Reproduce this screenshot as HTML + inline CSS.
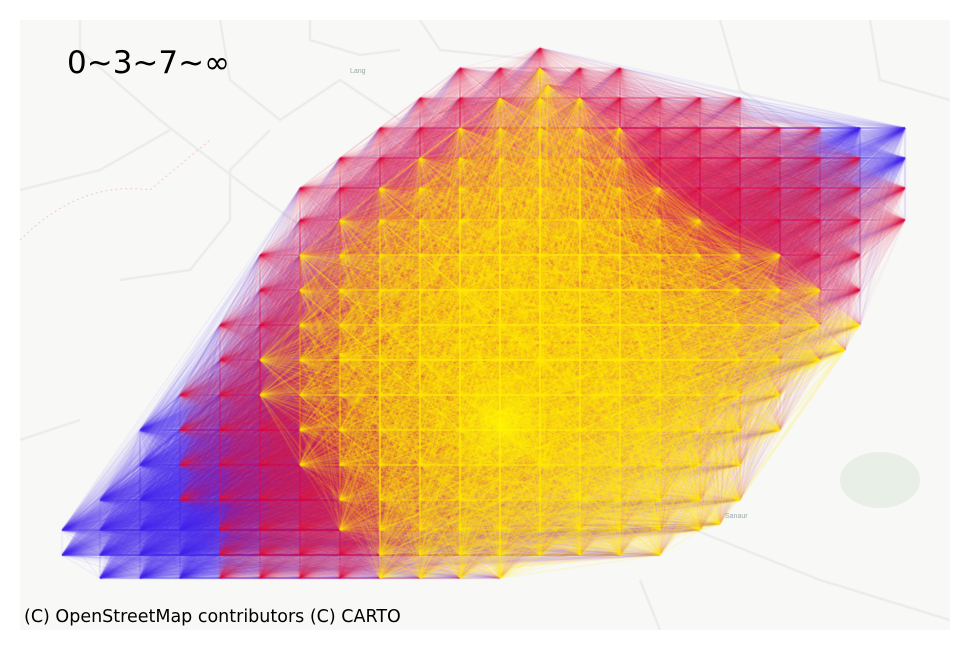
<!DOCTYPE html>
<html><head><meta charset="utf-8"><style>
html,body{margin:0;padding:0;background:#fff;width:969px;height:651px;overflow:hidden}
#wrap{position:relative;width:969px;height:651px}
#map{position:absolute;left:20px;top:20px;width:930px;height:610px;background:#f8f8f7}
canvas{position:absolute;left:0;top:0}
.t{position:absolute;font-family:"DejaVu Sans","Liberation Sans",sans-serif;color:#000}
</style></head><body>
<div id="wrap">
<div id="map">
<svg width="930" height="610" style="position:absolute;left:0;top:0">
<g stroke="#ececea" stroke-width="2.5" fill="none">
<path d="M60 0 L60 30 L140 100 L230 170 L330 240"/>
<path d="M200 0 L210 60 L260 100 L320 60 L380 100 L480 80"/>
<path d="M290 0 L290 20 L340 35 L380 30"/>
<path d="M250 110 L210 150 L210 200 L170 250 L100 260"/>
<path d="M0 170 L80 150 L150 110"/>
<path d="M400 0 L420 30 L520 40"/>
<path d="M700 0 L720 70 L780 110"/>
<path d="M0 420 L60 400"/>
<path d="M600 480 L700 520 L800 560 L930 600"/>
<path d="M620 560 L640 610"/>
<path d="M850 0 L860 60 L930 80"/>
</g>
<path d="M0 220 Q60 160 130 170 L190 120" stroke="#f3c9c9" stroke-dasharray="2 3" fill="none"/>
<ellipse cx="860" cy="460" rx="40" ry="28" fill="#e7efe7"/>
<text x="330" y="53" font-size="7" fill="#9aa" font-family="Liberation Sans,sans-serif">Lang</text>
<text x="705" y="498" font-size="7" fill="#9aa" font-family="Liberation Sans,sans-serif">Sanaur</text>
</svg>
</div>
<canvas id="cv" width="969" height="651"></canvas>
<div class="t" style="left:67px;top:45px;font-size:31px">0~3~7~∞</div>
<div class="t" style="left:24px;top:607px;font-size:17.5px">(C) OpenStreetMap contributors (C) CARTO</div>
</div>
<script>
const gridX = [62,100,140,180,220,260,300,340,380,420,460,500,540,580,620,660,700,740,780,820,860,905];
const gridY = [48,68,98,128,158,188,220,255,290,325,360,395,430,465,500,530,555,578];
const hull = [[445,60],[548,44],[745,94],[908,128],[908,224],[888,284],[848,354],[722,526],[652,570],[180,602],[66,584],[58,528],[160,398],[316,158]];
const hubs = [[500,425,1.0],[545,460,0.5],[845,350,0.5],[720,524,0.45],[548,85,0.4],[340,355,0.35],[465,290,0.35]];
const thresholds = [3.4,6.3];
function inside(x,y){let c=false;for(let i=0,j=hull.length-1;i<hull.length;j=i++){const [xi,yi]=hull[i],[xj,yj]=hull[j];if(((yi>y)!=(yj>y))&&(x<(xj-xi)*(y-yi)/(yj-yi)+xi))c=!c;}return c;}
const nodes=[];
gridY.forEach(y=>gridX.forEach(x=>{if(inside(x,y))nodes.push([x,y]);}));
hubs.forEach(h=>nodes.push([h[0],h[1]]));
function pot(p){let s=0;for(const h of hubs){const d=Math.hypot(p[0]-h[0],p[1]-h[1]);s+=h[2]*Math.exp(-d/170);}return s;}
const pv=nodes.map(pot);
const cv=document.getElementById('cv'),ctx=cv.getContext('2d');
ctx.lineWidth=0.5;
const groups=[[],[],[]];
for(let i=0;i<nodes.length;i++)for(let j=i+1;j<nodes.length;j++){
  const v=Math.min(pv[i],pv[j])*9;
  const k=v<thresholds[0]?0:(v<thresholds[1]?1:2);
  if(k===2 && (i+j)%3!==0) continue;
  groups[k].push([i,j]);
}
const cols=['rgba(70,40,230,0.2)','rgba(225,10,60,0.13)','rgba(255,235,0,0.42)'];
groups.forEach((g,k)=>{ctx.strokeStyle=cols[k];ctx.beginPath();g.forEach(([i,j])=>{ctx.moveTo(nodes[i][0],nodes[i][1]);ctx.lineTo(nodes[j][0],nodes[j][1]);});ctx.stroke();});
const gr=ctx.createRadialGradient(500,425,0,500,425,50);gr.addColorStop(0,'rgba(255,250,0,0.7)');gr.addColorStop(1,'rgba(255,250,0,0)');
ctx.fillStyle=gr;ctx.fillRect(440,365,120,120);
</script>
</body></html>
